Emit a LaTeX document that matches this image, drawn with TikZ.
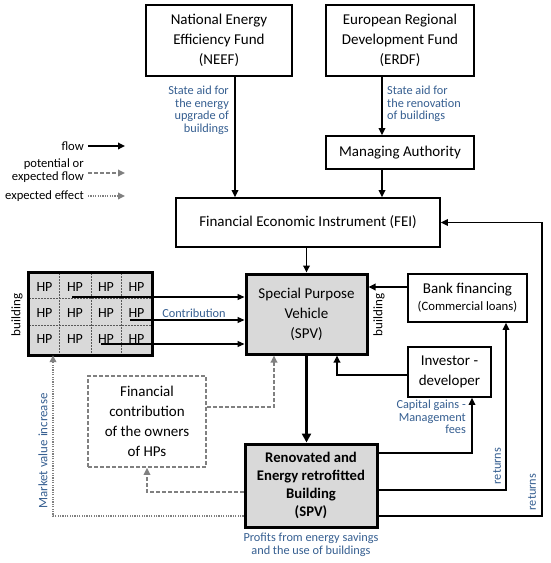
\documentclass[tikz,border=0pt]{standalone}
\usepackage{fontspec}
\setmainfont{Carlito}
\usetikzlibrary{arrows.meta,calc}
\definecolor{lblue}{RGB}{54,95,145}
\definecolor{boxgray}{RGB}{217,217,217}
\definecolor{dgray}{RGB}{128,128,128}
\begin{document}
\begin{tikzpicture}[x=1pt,y=-1pt,
  box/.style={draw,line width=1.6pt,fill=white,inner sep=0pt,align=center,font=\fontsize{15}{20}\selectfont},
  gbox/.style={box,line width=3pt,fill=boxgray},
  lab/.style={text=lblue,font=\fontsize{12.3}{12.6}\selectfont,inner sep=0pt},
  legtxt/.style={font=\fontsize{12.6}{13}\selectfont,inner sep=0pt,align=right},
  rotlab/.style={font=\fontsize{13}{14}\selectfont,inner sep=0pt,rotate=90},
  flow/.style={line width=1.7pt,-{Triangle[length=7pt,width=6.5pt]}},
  thinflow/.style={line width=1.2pt,-{Triangle[length=7pt,width=6pt]}},
  bigflow/.style={line width=3pt,-{Triangle[length=9pt,width=9pt]}},
  potflow/.style={line width=1.7pt,dgray,dash pattern=on 4pt off 2pt,-{Triangle[length=7pt,width=6.5pt]}},
  effflow/.style={line width=1.7pt,dgray,dash pattern=on 1.2pt off 1.2pt,-{Triangle[length=7pt,width=6.5pt]}},
  hp/.style={font=\fontsize{14}{15}\selectfont,inner sep=0pt}
]
\useasboundingbox (0,0) rectangle (550,563);
\fill[white] (0,0) rectangle (550,563);

% boxes
\node[box,minimum width=146,minimum height=71] (neef) at (219,40.5) {National Energy\\Efficiency Fund\\(NEEF)};
\node[box,minimum width=148,minimum height=71] (erdf) at (400,40.5) {European Regional\\Development Fund\\(ERDF)};
\node[box,minimum width=148,minimum height=33] (ma) at (400,152.5) {Managing Authority};
\node[box,minimum width=264,minimum height=49] (fei) at (308,222.5) {Financial Economic Instrument (FEI)};
\node[gbox,minimum width=121,minimum height=80] (spv) at (306.5,314) {Special Purpose\\Vehicle\\(SPV)};
\node[box,minimum width=119,minimum height=48] (bank) at (467.5,298) {Bank financing\\[-3pt]{\fontsize{12.7}{14}\selectfont(Commercial loans)}};
\node[box,minimum width=83,minimum height=50] (inv) at (449.5,372) {Investor -\\developer};
\node[gbox,minimum width=132,minimum height=83,font=\bfseries\fontsize{14.7}{18}\selectfont] (ren) at (311,485.5) {Renovated and\\Energy retrofitted\\Building\\(SPV)};
\node[box,draw=dgray,dash pattern=on 4pt off 2pt,minimum width=118,minimum height=91] (fin) at (147,421.5) {Financial\\contribution\\of the owners\\of HPs};

% HP grid
\node[fill=boxgray,minimum width=123,minimum height=82,inner sep=0pt] (hpgrid) at (90.5,314) {};
\begin{scope}[line width=0.8pt,gray!70!black,dash pattern=on 2pt off 1pt]
  \draw (59.5,273) -- (59.5,355);
  \draw (91,273) -- (91,355);
  \draw (121,273) -- (121,355);
  \draw (29,298.5) -- (152,298.5);
  \draw (29,325.5) -- (152,325.5);
\end{scope}
\draw[line width=3pt] (hpgrid.north west) rectangle (hpgrid.south east);
\foreach \r/\y in {1/287,2/313,3/339}{
  \foreach \c/\x in {1/44.5,2/75,3/106,4/136.5}{
    \node[hp] (hp\r\c) at (\x,\y) {HP};
  }
}
\node[rotlab] (bld1) at (17,315) {building};
\node[rotlab] (bld2) at (379,315) {building};

% HP contribution arrows
\coordinate (c1) at (72,297);
\coordinate (c2) at (130,320);
\coordinate (c3) at (101,344);
\draw[thinflow] (c1) -- (c1 -| spv.west);
\draw[thinflow] (c2) -- (c2 -| spv.west);
\draw[thinflow] (c3) -- (c3 -| spv.west);
\node[lab] (contr) at (194,313) {Contribution};

% top flows
\coordinate (xneef) at (235,0);
\coordinate (xerdf) at (382,0);
\draw[flow] (neef.south -| xneef) -- (fei.north -| xneef);
\draw[flow] (erdf.south -| xerdf) -- (ma.north -| xerdf);
\draw[flow] (ma.south -| xerdf) -- (fei.north -| xerdf);
\draw[flow] (fei.south -| spv.north) -- (spv.north);
\node[lab,align=right,anchor=north east] (l1) at (229,86) {State aid for\\the energy\\upgrade of\\buildings};
\node[lab,align=left,anchor=north west] (l2) at (387,86) {State aid for\\the renovation\\of buildings};

% bank, investor
\coordinate (ybank) at (0,287);
\draw[flow] (bank.west |- ybank) -- (spv.east |- ybank);
\coordinate (yinv) at (0,375);
\coordinate (xinv) at (337,0);
\draw[flow] (inv.west |- yinv) -| (spv.south -| xinv);

% SPV -> renovated
\draw[bigflow] (spv.south) -- (ren.north -| spv.south);

% returns
\coordinate (r1) at (472,453);
\coordinate (r2) at (506,490);
\coordinate (r3) at (542,516);
\draw[flow] (ren.east |- r1) -| (inv.south -| r1);
\draw[flow] (ren.east |- r2) -| (bank.south -| r2);
\draw[flow] (ren.east |- r3) -- (r3) |- (fei.east);
\node[lab,align=right,anchor=north east] (l3) at (466,400) {Capital gains -\\Management\\fees};
\node[lab,rotate=90] (ret1) at (497,466) {returns};
\node[lab,rotate=90] (ret2) at (532,492) {returns};
\node[lab,align=center] (l4) at (311,545) {Profits from energy savings\\and the use of buildings};

% dashed potential flows
\coordinate (p1) at (274,407);
\draw[potflow] (fin.east |- p1) -- (p1) -- (spv.south -| p1);
\coordinate (p2) at (147,492);
\draw[potflow] (ren.west |- p2) -- (p2) -- (fin.south);

% dotted effect
\coordinate (e1) at (53,516);
\draw[effflow] (ren.west |- e1) -- (e1) -- (hpgrid.south -| e1);
\node[lab,rotate=90,font=\fontsize{12.9}{13}\selectfont] (mvi) at (43,451) {Market value increase};

% legend
\node[legtxt,anchor=east] (lflow) at (84,146) {flow};
\coordinate (lflowe) at (125,146);
\draw[flow] ($(lflowe -| lflow.east)+(4,0)$) -- (lflowe);
\node[legtxt,anchor=east] (lpot) at (84,170.5) {potential or\\expected flow};
\coordinate (lpote) at (125,173);
\draw[potflow] ($(lpote -| lpot.east)+(4,0)$) -- (lpote);
\node[legtxt,anchor=east] (leff) at (84,196) {expected effect};
\coordinate (leffe) at (125,196);
\draw[effflow] ($(leffe -| leff.east)+(4,0)$) -- (leffe);
\end{tikzpicture}
\end{document}
